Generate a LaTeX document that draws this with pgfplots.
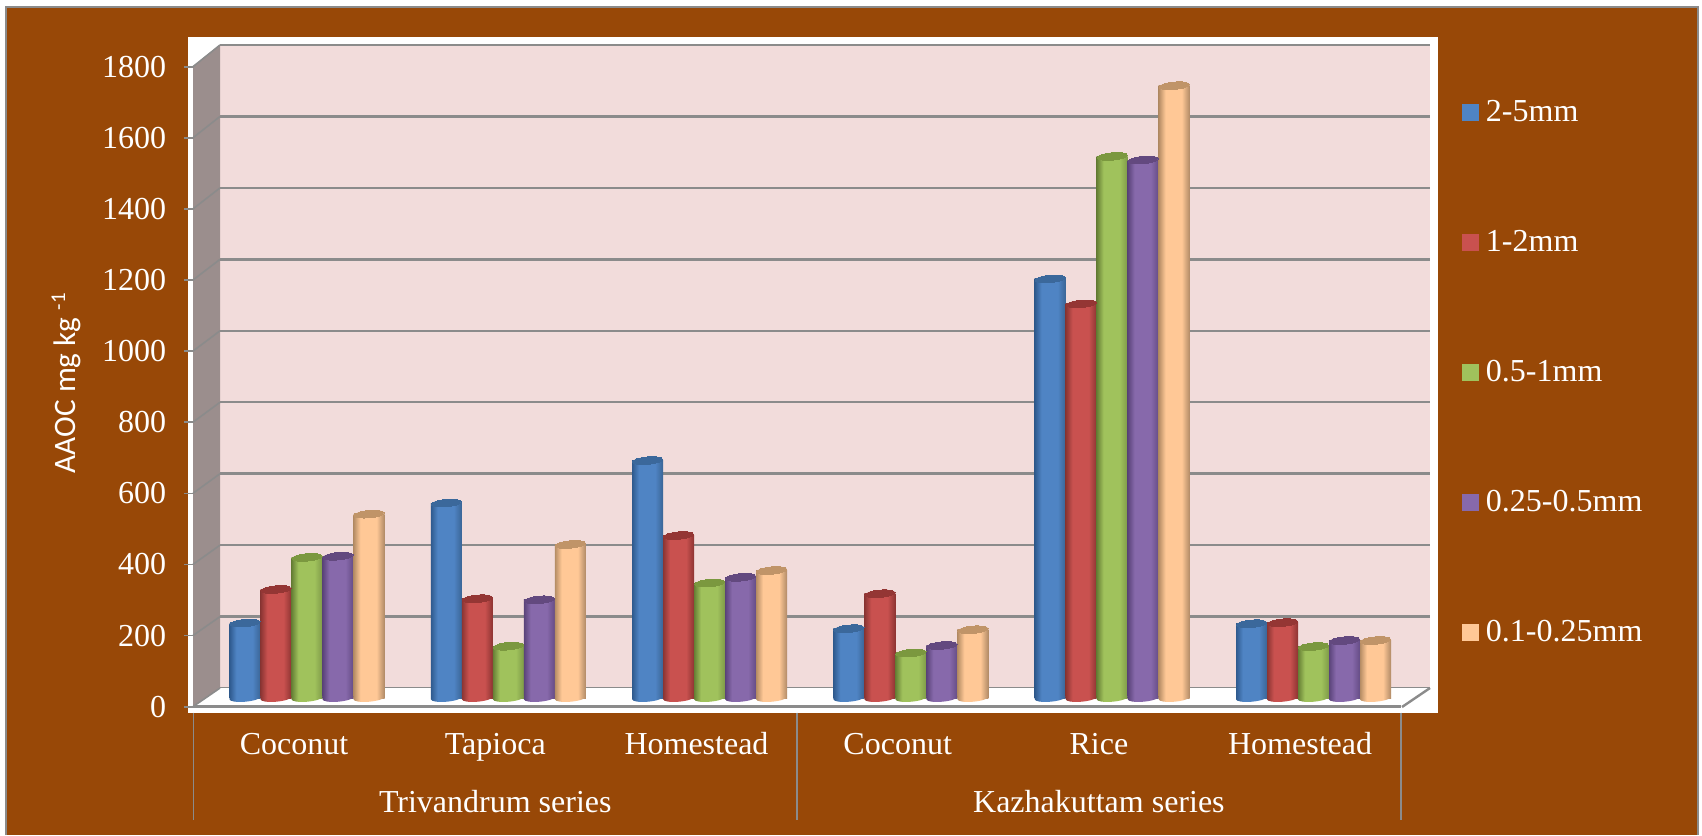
\documentclass[border=0pt]{standalone}
\usepackage{pgfplots}
\usepackage{pgfplotstable}
\usepackage{fontspec}
\pgfplotsset{compat=1.18}
\setmainfont{Liberation Serif}
\newfontfamily\labelfont{Carlito}

\definecolor{panel}{HTML}{984807}
\definecolor{wallpink}{HTML}{F2DCDB}
\definecolor{sidewall}{HTML}{9B8E8D}
\definecolor{rule}{HTML}{8B8B8B}
\definecolor{blueL}{HTML}{2F5A8E}\definecolor{blueM}{HTML}{4F84C4}\definecolor{blueR}{HTML}{3A6596}\definecolor{blueT}{HTML}{3B689B}
\definecolor{redL}{HTML}{8A3533}\definecolor{redM}{HTML}{C9514F}\definecolor{redR}{HTML}{8D3432}\definecolor{redT}{HTML}{943634}
\definecolor{greenL}{HTML}{667F35}\definecolor{greenM}{HTML}{A0C25C}\definecolor{greenR}{HTML}{7E9A48}\definecolor{greenT}{HTML}{7B983F}
\definecolor{purpleL}{HTML}{5A4379}\definecolor{purpleM}{HTML}{8769AB}\definecolor{purpleR}{HTML}{654C85}\definecolor{purpleT}{HTML}{63497F}
\definecolor{orangeL}{HTML}{B58C64}\definecolor{orangeM}{HTML}{FFC896}\definecolor{orangeR}{HTML}{B08A66}\definecolor{orangeT}{HTML}{C09468}

% cylinder side: dark edges, lit centre; the base ellipse takes the same shading
\newcommand{\cylshading}[1]{%
  \pgfdeclarehorizontalshading{cyl#1}{100bp}{%
    color(0bp)=(#1L); color(25bp)=(#1L); color(36bp)=(#1M); color(62bp)=(#1M);
    color(75bp)=(#1R); color(100bp)=(#1R)}%
  \pgfdeclareplotmark{base#1}{%
    \pgfpathellipse{\pgfpointorigin}{\pgfqpoint{\pgfplotmarksize}{0pt}}{\pgfqpoint{0pt}{.24\pgfplotmarksize}}%
    \pgfshadepath{cyl#1}{0}\pgfusepath{discard}}}
\cylshading{blue}\cylshading{red}\cylshading{green}\cylshading{purple}\cylshading{orange}

% soil use index, then AAOC of each aggregate size class
\pgfplotstableread{
use  a    b    c    d    e
0    210  304  394  397  515
1    546  278  145  275  430
2    665  455  322  338  357
3    194  292  126  147  191
4    1174 1104 1517 1507 1715
5    208  211  144  161  161
}\aaoc

% one cylinder series: base ellipse, shaded side, top ellipse, one bar at a time
\newcommand{\cylinders}[3]{%
  \pgfplotsinvokeforeach{0,...,5}{%
    \addplot[forget plot, only marks, mark=base#3, mark size=7.75pt, mark options={rotate=5}]
      table[x expr=\coordindex+#1, y expr=0, restrict expr to domain={\coordindex}{##1:##1}] {\aaoc};
    \addplot[forget plot, ybar, bar width=15.5pt, bar shift=0pt, draw=none, shade, shading=cyl#3]
      table[x expr=\coordindex+#1, y=#2, restrict expr to domain={\coordindex}{##1:##1}] {\aaoc};
    \addplot[forget plot, only marks, mark=*, mark size=7.6pt,
      mark options={rotate=5,yscale=.24,draw=#3T,line width=0pt,fill=#3T}]
      table[x expr=\coordindex+#1, y=#2, restrict expr to domain={\coordindex}{##1:##1}] {\aaoc};
  }%
}
\newcommand{\legendswatch}[2]{%
  \addlegendimage{only marks, mark=square*, mark size=4pt, mark options={draw=#1,line width=0pt,fill=#1}}
  \addlegendentry{#2}}

\begin{document}
\begin{tikzpicture}[x=0.5pt,y=-0.5pt]
\useasboundingbox (0,0) rectangle (1702,835);
\fill[white] (0,0) rectangle (1702,835);
\fill[panel] (6,7) rectangle (1698,835);
\draw[rule,line width=1pt] (6,835) -- (6,7) -- (1698,7) -- (1698,835);
\fill[white] (188,37) rectangle (1438,713);

% back wall with its gridlines
\begin{axis}[at={(110pt,-344pt)},anchor=south west,scale only axis,
  width=605pt,height=321.5pt,xmin=0,xmax=1,ymin=0,ymax=1800,
  axis lines=none,clip=false]
  \addplot[draw=none,fill=wallpink] coordinates {(0,0)(1,0)(1,1800)(0,1800)} -- cycle;
  \pgfplotsinvokeforeach{200,400,...,1800}{
    \addplot[rule,line width=1.2pt] coordinates {(0,#1)(1,#1)};
  }
  \addplot[rule,line width=1.2pt] coordinates {(0,0)(1,0)};
\end{axis}

% side wall, floor and the slanted gridlines
\fill[sidewall] (193,66) -- (220,45) -- (220,688) -- (193,707) -- cycle;
\fill[white] (193,707) -- (220,688) -- (1430,688) -- (1403,707) -- cycle;
\foreach \k in {0,...,9}
  \draw[rule,line width=.8pt] (193,{66.7+71.1*\k}) -- (220,{45+71.45*\k});
\draw[rule,line width=1.2pt] (1402,707) -- (1430,688);

% front axis: value ticks, categories, group names
\begin{axis}[at={(96.75pt,-353.35pt)},anchor=south west,scale only axis,
  width=603.6pt,height=320pt,xmin=0,xmax=6,ymin=0,ymax=1800,
  axis x line=bottom,axis y line=left,
  axis line style={-},
  x axis line style={rule,line width=1.5pt},
  y axis line style={draw=none},
  ytick={0,200,...,1800},
  xtick={0.5,1.5,2.5,3.5,4.5,5.5},
  xticklabels={Coconut,Tapioca,Homestead,Coconut,Rice,Homestead},
  x tick style={draw=none},
  y tick style={rule,line width=.8pt},
  tick align=outside,major tick length=4.5pt,
  yticklabel style={font=\fontsize{16}{19}\selectfont,text=white,inner sep=0pt,xshift=-9pt},
  xticklabel style={font=\fontsize{16}{19}\selectfont,text=white,inner sep=0pt,
    text height=11pt,text depth=4pt,yshift=-8.3pt},
  /pgf/number format/assume math mode=true,
  /pgf/number format/set thousands separator={},
  extra x ticks={1.5,4.5},
  extra x tick labels={Trivandrum series,Kazhakuttam series},
  extra x tick style={tick label style={yshift=-29pt}},
  ylabel={\labelfont AAOC mg kg \raisebox{5pt}{\fontsize{10.5}{12}\selectfont -1}},
  ylabel style={font=\fontsize{15.6}{19}\selectfont,text=white,
    at={(axis description cs:-0.1056,0.5055)},anchor=center},
  clip=false]
  \addplot[draw=none,forget plot] coordinates {(0,0)};
  \pgfplotsinvokeforeach{0,3,6}{
    \draw[rule,line width=.8pt] (axis cs:#1,0) ++(0pt,-3pt) -- ++(0pt,-53.5pt);
  }
\end{axis}

% cylinders and legend
\begin{axis}[at={(103.175pt,-349pt)},anchor=south west,scale only axis,
  width=603.9pt,height=321.3pt,xmin=-0.5,xmax=5.5,ymin=0,ymax=1800,
  axis lines=none,clip=false,
  legend cell align=left,
  legend style={at={(axis description cs:1.0401,0.9365)},anchor=north west,
    draw=none,fill=none,text=white,inner sep=0pt,
    font=\fontsize{16}{19}\selectfont,
    /tikz/row sep=48.8pt,/tikz/column sep=1.5pt}]
  \cylinders{-0.308}{a}{blue}
  \cylinders{-0.154}{b}{red}
  \cylinders{0}{c}{green}
  \cylinders{0.154}{d}{purple}
  \cylinders{0.308}{e}{orange}
  \legendswatch{blueM}{2-5mm}
  \legendswatch{redM}{1-2mm}
  \legendswatch{greenM}{0.5-1mm}
  \legendswatch{purpleM}{0.25-0.5mm}
  \legendswatch{orangeM}{0.1-0.25mm}
\end{axis}
\end{tikzpicture}
\end{document}
